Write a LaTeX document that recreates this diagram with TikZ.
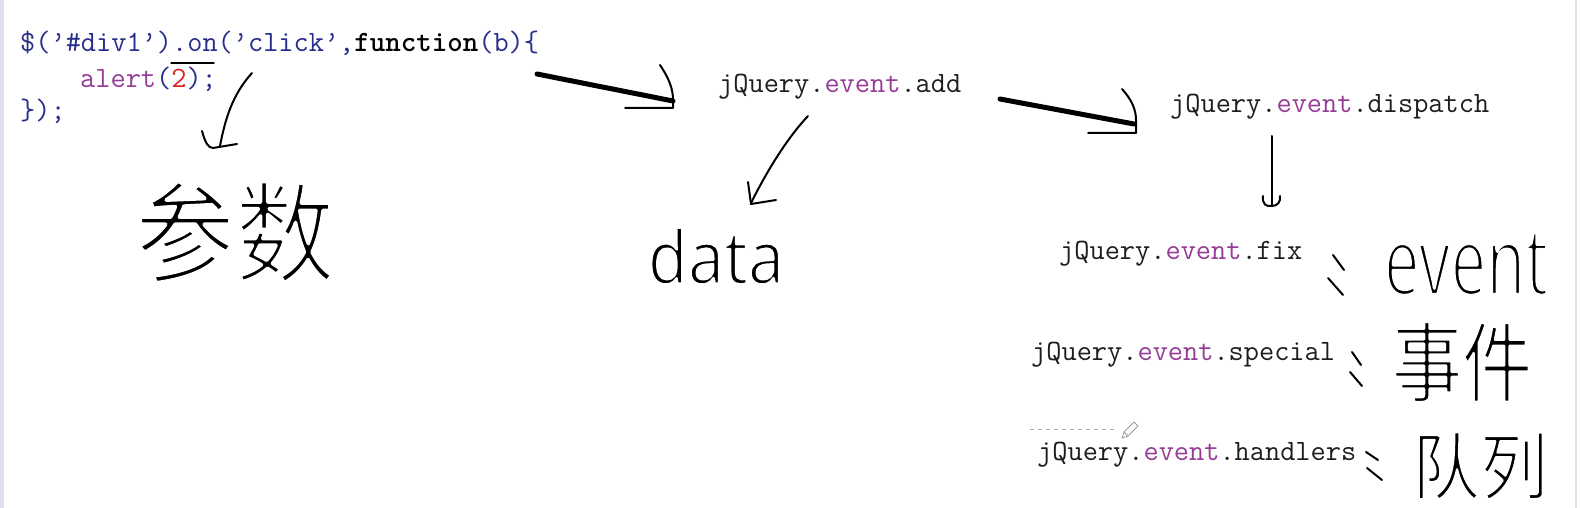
\documentclass[tikz,border=0pt]{standalone}
\usepackage{fontspec}
\newfontfamily\cjk{Noto Sans CJK SC}
\newfontfamily\handfont{Noto Sans}
\definecolor{cblue}{RGB}{40,45,140}
\definecolor{cpurple}{RGB}{150,60,150}
\definecolor{cred}{RGB}{215,35,35}
\definecolor{cdark}{RGB}{30,30,30}
\definecolor{barcol}{RGB}{222,226,238}
\newcommand{\thinon}[1]{\special{pdf:literal direct 2 Tr #1 w 1 1 1 RG 1 j}}
\newcommand{\thinoff}{\special{pdf:literal direct 0 Tr}}
\tikzset{
  code/.style={font=\ttfamily\fontsize{29.5}{34}\selectfont, inner sep=0pt, anchor=west, text=cdark},
  pen/.style={line width=2pt, line cap=round, line join=round},
  thickpen/.style={line width=5pt, line cap=round},
  cjkhand/.style={font=\cjk\fontsize{#1}{#1}\selectfont, inner sep=0pt},
  latinhand/.style={font=\handfont\fontsize{#1}{#1}\selectfont, inner sep=0pt},
  thin/.style={execute at begin node={\thinon{#1}}, execute at end node={\thinoff}},
  tick/.style={line width=2pt, line cap=round}
}
\begin{document}
\begin{tikzpicture}[x=1pt,y=-1pt]
\useasboundingbox (0,0) rectangle (1580,508);
\fill[white] (0,0) rectangle (1580,508);
\fill[barcol] (0,0) rectangle (4,508);
\draw[barcol, line width=1.5pt] (1576,0) -- (1576,508);

% code
\node[code] (l1) at (20,43) {\textcolor{cblue}{\$(’\#div1’).on(’click’,}\textcolor{black}{\bfseries function}\textcolor{cblue}{(b)\{}};
\node[code] (l2) at (80,79) {\textcolor{cpurple}{alert}\textcolor{cblue}{(}\textcolor{cred}{2}\textcolor{cblue}{);}};
\node[code] (l3) at (20,111) {\textcolor{cblue}{\});}};

% jQuery nodes
\node[code] (add) at (718,87) {jQuery.\textcolor{cpurple}{event}.add};
\node[code] (disp) at (1170,107) {jQuery.\textcolor{cpurple}{event}.dispatch};
\node[code] (fix) at (1059,254) {jQuery.\textcolor{cpurple}{event}.fix};
\node[code] (spec) at (1031,355) {jQuery.\textcolor{cpurple}{event}.special};
\node[code] (hand) at (1037,455) {jQuery.\textcolor{cpurple}{event}.handlers};

% handwritten words
\node[cjkhand=100, yscale=1.1, thin=3.5] (param) at (235,232) {参数};
\node[latinhand=74, xscale=0.88, thin=2.5] (data) at (716,256) {data};
\node[latinhand=96, xscale=0.66, thin=4.5] (ev) at (1466,264) {event};
\node[cjkhand=70, yscale=1.25, thin=2.2] (shijian) at (1462,362) {事件};
\node[cjkhand=68, yscale=1.08, thin=2.2] (duilie) at (1480,466) {队列};

% overline over 2)
\draw[pen, line width=1.5pt] (171,63) -- (214,63);

% arrow alert -> 参数
\coordinate (p1) at (252,73);
\coordinate (p2) at (220,146);
\draw[pen] (p1) .. controls (232,95) and (225,120) .. (p2);
\draw[pen] (202,131) .. controls (205,142) and (208,148) .. (213,148) -- (237,144);

% big arrow code -> add
\coordinate (b1s) at (537,74);
\coordinate (b1e) at (673,101);
\draw[thickpen] (b1s) -- (b1e);
\draw[pen] (660,65) .. controls (670,80) and (673,90) .. (673,100) -- (673,108) -- (625,108);

% arrow add -> data
\coordinate (d1) at (808,116);
\coordinate (d2) at (751,203);
\draw[pen] (d1) .. controls (790,135) and (770,165) .. (d2);
\draw[pen] (748,182) -- (751,204) -- (776,200);

% big arrow add -> dispatch
\coordinate (b2s) at (1000,99);
\coordinate (b2e) at (1134,124);
\draw[thickpen] (b2s) -- (b2e);
\draw[pen] (1122,89) .. controls (1132,100) and (1136,110) .. (1136,120) -- (1136,133) -- (1088,133);

% arrow dispatch -> fix
\coordinate (v1) at (1272,136);
\coordinate (v2) at (1272,206);
\draw[pen] (v1) -- (v2);
\draw[pen] (1263,196) .. controls (1262,204) and (1266,207) .. (1272,206) .. controls (1277,206) and (1281,202) .. (1280,196);

% small marks
\draw[tick] (1333,255) -- (1344,270);
\draw[tick] (1328,278) -- (1343,295);
\draw[tick] (1352,352) -- (1361,365);
\draw[tick] (1350,372) -- (1362,386);
\draw[tick] (1366,452) -- (1378,460);
\draw[tick] (1367,468) -- (1382,480);

% dashed line and pencil
\draw[gray!70, line width=0.8pt, dash pattern=on 4pt off 4pt] (1030,429) -- (1118,429);
\draw[gray!80, fill=white, line width=0.8pt, line join=round] (1122,438) -- (1124,432) -- (1134,422) -- (1138,426) -- (1128,436) -- cycle;
\draw[gray!80, line width=0.8pt] (1124,432) -- (1128,436);
\end{tikzpicture}
\end{document}
